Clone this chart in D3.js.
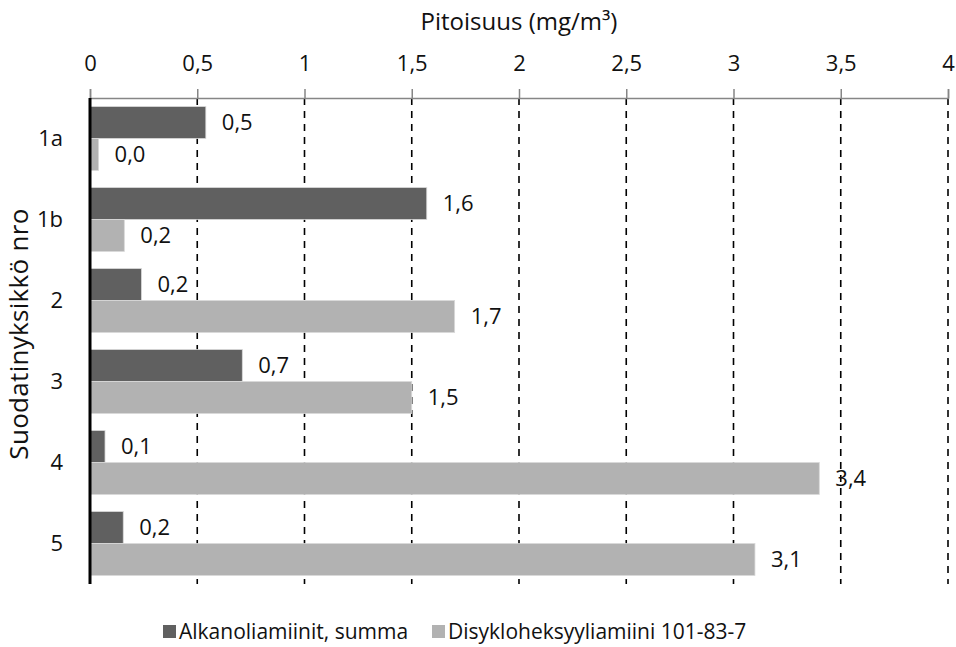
<!DOCTYPE html>
<html>
<head>
<meta charset="utf-8">
<script src="https://cdn.jsdelivr.net/npm/d3@7"></script>
<style>
  body { margin: 0; background: #fff; }
  svg { font-family: "Open Sans", "Noto Sans", sans-serif; }
</style>
</head>
<body>
<svg id="chart" width="956" height="647"></svg>
<script>
var CATEGORIES = ["1a", "1b", "2", "3", "4", "5"];
var SERIES = ["Alkanoliamiinit, summa", "Disykloheksyyliamiini 101-83-7"];
var ALKANOLI = [0.54, 1.57, 0.24, 0.71, 0.07, 0.155];
var DISYKLO = [0.04, 0.16, 1.70, 1.50, 3.40, 3.10];
var X_TICKS = [0, 0.5, 1, 1.5, 2, 2.5, 3, 3.5, 4];
var COLORS = ["#606060", "#b2b2b2"];

var svg = d3.select("#chart");
var margin = {top: 98, right: 8, bottom: 63, left: 90};
var width = +svg.attr("width") - margin.left - margin.right;
var height = +svg.attr("height") - margin.top - margin.bottom;
var g = svg.append("g").attr("transform", "translate(" + margin.left + "," + margin.top + ")");

var fi = d3.formatLocale({decimal: ",", thousands: " ", grouping: [3], currency: ["", " €"]});
var fmt1 = fi.format(".1f");
var fmtTick = function (d) { return String(d).replace(".", ","); };

var x = d3.scaleLinear().domain([0, 4]).range([0, width]);
var y = d3.scaleBand().domain(CATEGORIES).range([0, height]).paddingInner(0.21).paddingOuter(0.105);
var ys = d3.scaleBand().domain(SERIES).range([0, y.bandwidth()]);
var color = d3.scaleOrdinal().domain(SERIES).range(COLORS);

var rows = CATEGORIES.map(function (c, i) {
    return {cat: c, values: [
        {series: SERIES[0], value: ALKANOLI[i]},
        {series: SERIES[1], value: DISYKLO[i]}
    ]};
});

/* dashed gridlines */
g.append("g").selectAll("line")
    .data(X_TICKS.filter(function (t) { return t > 0; }))
    .enter().append("line")
    .attr("x1", function (d) { return x(d); })
    .attr("x2", function (d) { return x(d); })
    .attr("y1", 0).attr("y2", height)
    .attr("stroke", "#000").attr("stroke-width", 1.6)
    .attr("stroke-dasharray", "7,6");

/* top axis */
var xAxis = g.append("g")
    .call(d3.axisTop(x).tickValues(X_TICKS).tickFormat(fmtTick).tickSize(9).tickPadding(18));
xAxis.select(".domain").attr("stroke", "#868686").attr("stroke-width", 1.5);
xAxis.selectAll(".tick line").attr("stroke", "#868686").attr("stroke-width", 1.5);
xAxis.selectAll(".tick text").attr("font-size", 22).attr("fill", "#111")
    .attr("font-family", "Open Sans, sans-serif");

/* bars */
var groups = g.selectAll(".cat").data(rows).enter().append("g")
    .attr("class", "cat")
    .attr("transform", function (d) { return "translate(0," + y(d.cat) + ")"; });

groups.selectAll("rect").data(function (d) { return d.values; }).enter().append("rect")
    .attr("x", 0)
    .attr("y", function (d) { return ys(d.series); })
    .attr("width", function (d) { return x(d.value); })
    .attr("height", ys.bandwidth())
    .attr("fill", function (d) { return color(d.series); })
    .attr("stroke", "#d9d9d9").attr("stroke-width", 0.8);

groups.selectAll("text.val").data(function (d) { return d.values; }).enter().append("text")
    .attr("class", "val")
    .attr("x", function (d) { return x(d.value) + 16; })
    .attr("y", function (d) { return ys(d.series) + ys.bandwidth() / 2; })
    .attr("dy", "0.35em")
    .attr("font-size", 22).attr("fill", "#111")
    .text(function (d) { return fmt1(d.value); });

/* category labels */
g.append("g").selectAll("text").data(CATEGORIES).enter().append("text")
    .attr("x", -27)
    .attr("y", function (d) { return y(d) + y.bandwidth() / 2; })
    .attr("dy", "0.35em")
    .attr("text-anchor", "end")
    .attr("font-size", 22).attr("fill", "#111")
    .text(function (d) { return d; });

/* zero line */
g.append("line")
    .attr("x1", x(0)).attr("x2", x(0)).attr("y1", 0).attr("y2", height)
    .attr("stroke", "#000").attr("stroke-width", 3);

/* axis titles */
svg.append("text")
    .attr("x", margin.left + x(2)).attr("y", 30)
    .attr("text-anchor", "middle").attr("font-size", 24).attr("fill", "#111")
    .text("Pitoisuus (mg/m³)");

svg.append("text")
    .attr("transform", "translate(28," + 334 + ") rotate(-90)")
    .attr("text-anchor", "middle").attr("font-size", 26).attr("fill", "#111")
    .attr("letter-spacing", 0.3)
    .text("Suodatinyksikkö nro");

/* legend */
var legendX = [163, 432];
var legend = svg.append("g").selectAll("g").data(SERIES).enter().append("g")
    .attr("transform", function (d, i) { return "translate(" + legendX[i] + ",632)"; });
legend.append("rect")
    .attr("x", 0).attr("y", -7).attr("width", 13).attr("height", 13)
    .attr("fill", function (d) { return color(d); });
legend.append("text")
    .attr("x", 16).attr("dy", "0.35em")
    .attr("font-size", 21).attr("fill", "#111")
    .text(function (d) { return d; });
</script>
</body>
</html>
